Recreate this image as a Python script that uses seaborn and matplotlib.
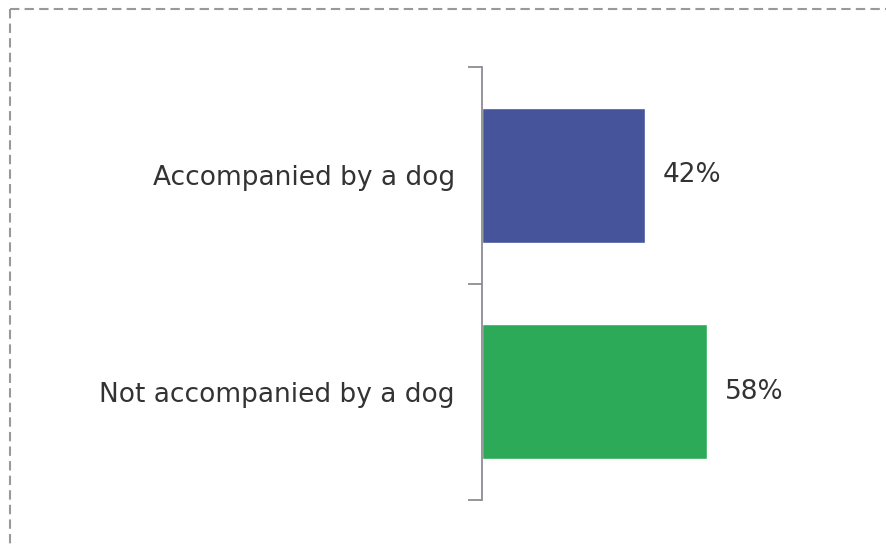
import matplotlib
matplotlib.use("Agg")
import matplotlib.pyplot as plt
from matplotlib.lines import Line2D
import seaborn as sns
import pandas as pd

categories = ["Accompanied by a dog", "Not accompanied by a dog"]
values = [42, 58]
bar_colors = ["#46549B", "#2DAA57"]

sns.set_theme(style="white")
plt.rcParams["font.family"] = ["DejaVu Sans"]

df = pd.DataFrame({"category": categories, "value": values})

fig = plt.figure(figsize=(8.87, 5.44), dpi=100)
ax = fig.add_axes([0.5434, 0.0809, 0.4375, 0.7959])

sns.barplot(data=df, y="category", x="value", hue="category",
            palette=bar_colors, orient="h", width=0.625,
            saturation=1, legend=False, ax=ax)

ax.set_xlim(0, 100)
ax.set_ylim(1.5, -0.5)
ax.set_xlabel("")
ax.set_ylabel("")
ax.set_xticks([])

# category boundaries carry the tick marks; labels sit at bar centres
ax.set_yticks([-0.5, 0.5, 1.5], minor=False)
ax.set_yticklabels([])
ax.set_yticks([0, 1], minor=True)
ax.set_yticklabels(categories, minor=True)
ax.tick_params(axis="y", which="major", length=10, width=1.3,
               color="#8C8C94", left=True)
ax.tick_params(axis="y", which="minor", length=0, pad=19.5,
               labelsize=19, labelcolor="#333333")

for side in ["top", "right", "bottom"]:
    ax.spines[side].set_visible(False)
ax.spines["left"].set_color("#8C8C94")
ax.spines["left"].set_linewidth(1.3)

for i, v in enumerate(values):
    ax.text(v + 4.6, i, f"{v}%", va="center", ha="left",
            fontsize=19, color="#333333")

# dashed frame along the top and left edges
W, H = 887, 544
dash = dict(color="#999999", linewidth=1.5, linestyle=(0, (4.5, 2.5)))
fig.add_artist(Line2D([10 / W, 1.0], [1 - 9 / H, 1 - 9 / H],
                      transform=fig.transFigure, **dash))
fig.add_artist(Line2D([10 / W, 10 / W], [1 - 9 / H, 0.0],
                      transform=fig.transFigure, **dash))

fig.savefig("out.png", dpi=100)
